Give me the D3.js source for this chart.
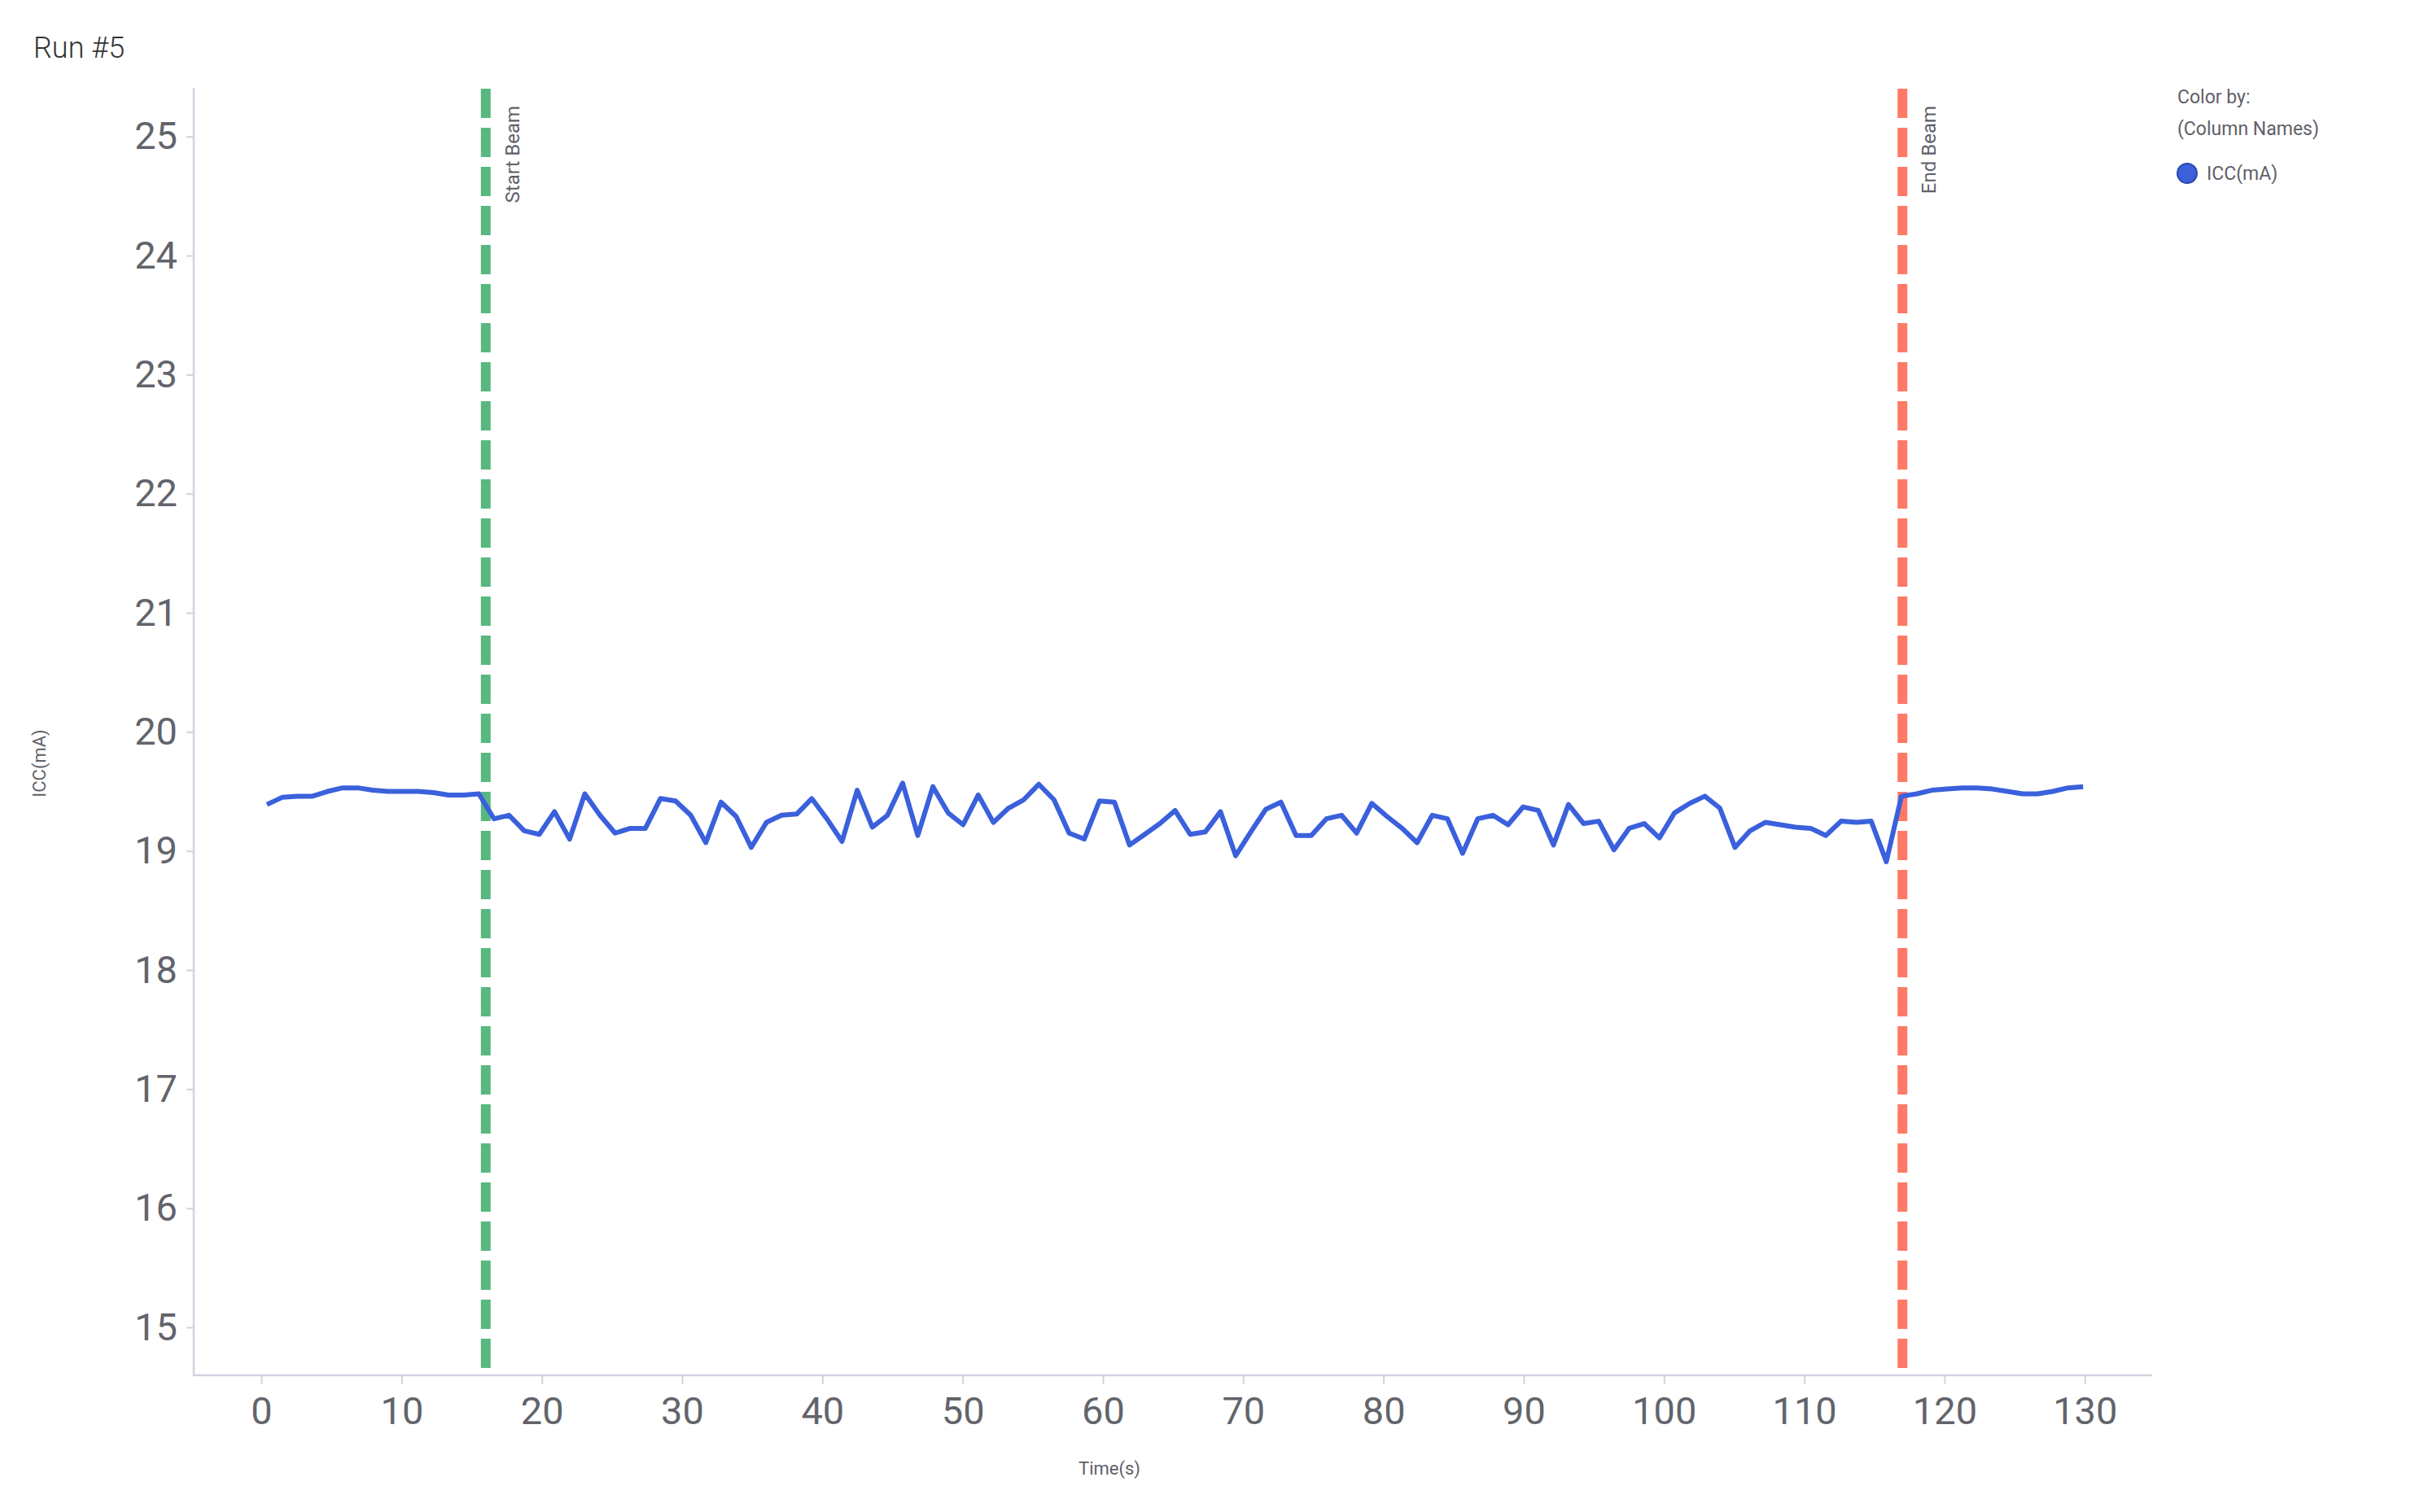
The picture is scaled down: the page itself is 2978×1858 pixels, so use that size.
<!DOCTYPE html>
<html>
<head>
<meta charset="utf-8">
<script src="https://cdn.jsdelivr.net/npm/d3@7"></script>
<style>
  html, body { margin: 0; padding: 0; background: #ffffff; }
  svg { display: block; font-family: Roboto, "Noto Sans", sans-serif; }
</style>
</head>
<body>
<svg id="chart" width="2978" height="1858"></svg>
<script>
// ---- data ----
const timeS = [0.4,1.48,2.56,3.64,4.72,5.8,6.87,7.95,9.03,10.11,11.19,12.27,13.35,14.43,15.51,16.59,17.66,18.74,19.82,20.9,21.98,23.06,24.14,25.22,26.3,27.38,28.45,29.53,30.61,31.69,32.77,33.85,34.93,36.01,37.09,38.17,39.24,40.32,41.4,42.48,43.56,44.64,45.72,46.8,47.88,48.96,50.03,51.11,52.19,53.27,54.35,55.43,56.51,57.59,58.67,59.75,60.82,61.9,62.98,64.06,65.14,66.22,67.3,68.38,69.46,70.54,71.61,72.69,73.77,74.85,75.93,77.01,78.09,79.17,80.25,81.33,82.4,83.48,84.56,85.64,86.72,87.8,88.88,89.96,91.04,92.12,93.19,94.27,95.35,96.43,97.51,98.59,99.67,100.75,101.83,102.91,103.98,105.06,106.14,107.22,108.3,109.38,110.46,111.54,112.62,113.7,114.77,115.85,116.93,118.01,119.09,120.17,121.25,122.33,123.41,124.49,125.56,126.64,127.72,128.8,129.88];
const iccMA = [19.39,19.45,19.46,19.46,19.50,19.53,19.53,19.51,19.50,19.50,19.50,19.49,19.47,19.47,19.48,19.27,19.30,19.17,19.14,19.33,19.10,19.48,19.30,19.15,19.19,19.19,19.44,19.42,19.30,19.07,19.41,19.29,19.03,19.24,19.30,19.31,19.44,19.27,19.08,19.51,19.20,19.30,19.57,19.13,19.54,19.32,19.22,19.47,19.24,19.36,19.43,19.56,19.43,19.15,19.10,19.42,19.41,19.05,19.14,19.23,19.34,19.14,19.16,19.33,18.96,19.16,19.35,19.41,19.13,19.13,19.27,19.30,19.15,19.40,19.29,19.19,19.07,19.30,19.27,18.98,19.27,19.30,19.22,19.37,19.34,19.05,19.39,19.23,19.25,19.01,19.19,19.23,19.11,19.32,19.40,19.46,19.36,19.03,19.17,19.24,19.22,19.20,19.19,19.13,19.25,19.24,19.25,18.91,19.46,19.48,19.51,19.52,19.53,19.53,19.52,19.50,19.48,19.48,19.50,19.53,19.54];
const xTicks = [0,10,20,30,40,50,60,70,80,90,100,110,120,130];
const yTicks = [15,16,17,18,19,20,21,22,23,24,25];
const markerNames = ["Start Beam", "End Beam"];
const markerTimes = [16, 117];
const markerColors = ["#58b880", "#fe7a66"];
const legendItems = ["ICC(mA)"];
const legendColors = ["#3a60dc"];

// ---- layout ----
const svg = d3.select("#chart");
const pLeft = 238, pRight = 2644, pTop = 108, pBottom = 1690;
const x = d3.scaleLinear().domain([-4.82, 134.8]).range([pLeft, pRight]);
const y = d3.scaleLinear().domain([14.597, 25.408]).range([pBottom, pTop]);
const axisColor = "#d0d4e0";
const tickTextColor = "#62646b";

// title
svg.append("text").attr("x", 41).attr("y", 71)
  .attr("font-size", 36).attr("font-weight", 300).attr("fill", "#333")
  .text("Run #5");

// y axis
const yAxis = svg.append("g").attr("transform", `translate(${pLeft},0)`)
  .call(d3.axisLeft(y).tickValues(yTicks).tickSize(9).tickPadding(11).tickFormat(d3.format("d")));
yAxis.select(".domain").remove();
yAxis.selectAll(".tick line").attr("stroke", axisColor).attr("stroke-width", 2);
yAxis.selectAll(".tick text").attr("font-size", 47).attr("fill", tickTextColor)
  .attr("font-family", "Roboto, sans-serif");
svg.append("line").attr("x1", pLeft).attr("x2", pLeft).attr("y1", pTop).attr("y2", pBottom + 1)
  .attr("stroke", axisColor).attr("stroke-width", 2.5);

// x axis
const xAxis = svg.append("g").attr("transform", `translate(0,${pBottom})`)
  .call(d3.axisBottom(x).tickValues(xTicks).tickSize(11).tickPadding(16).tickFormat(d3.format("d")));
xAxis.select(".domain").remove();
xAxis.selectAll(".tick line").attr("stroke", axisColor).attr("stroke-width", 2);
xAxis.selectAll(".tick text").attr("font-size", 47).attr("fill", tickTextColor)
  .attr("font-family", "Roboto, sans-serif");
svg.append("line").attr("x1", pLeft - 1).attr("x2", pRight).attr("y1", pBottom).attr("y2", pBottom)
  .attr("stroke", axisColor).attr("stroke-width", 2.5);

// axis titles
svg.append("text").attr("x", 1363).attr("y", 1812)
  .attr("text-anchor", "middle").attr("font-size", 22).attr("fill", "#5f6068")
  .text("Time(s)");
svg.append("text").attr("transform", `translate(56,${938}) rotate(-90)`)
  .attr("text-anchor", "middle").attr("font-size", 22).attr("fill", "#5f6068")
  .text("ICC(mA)");

// marker lines
markerTimes.forEach((t, i) => {
  svg.append("line")
    .attr("x1", x(t)).attr("x2", x(t)).attr("y1", pTop + 1).attr("y2", pBottom)
    .attr("stroke", markerColors[i]).attr("stroke-width", 12)
    .attr("stroke-dasharray", "36,12");
  svg.append("text")
    .attr("transform", `translate(${x(t) + 41},130) rotate(-90)`)
    .attr("text-anchor", "end").attr("font-size", 24).attr("fill", "#5f6068")
    .text(markerNames[i]);
});

// data line
const pts = timeS.map((t, i) => [t, iccMA[i]]);
svg.append("path").datum(pts)
  .attr("fill", "none").attr("stroke", legendColors[0]).attr("stroke-width", 6)
  .attr("stroke-linejoin", "round")
  .attr("d", d3.line().x(d => x(d[0])).y(d => y(d[1])));

// legend
const lg = svg.append("g");
lg.append("text").attr("x", 2675).attr("y", 127).attr("font-size", 23).attr("fill", "#5f6068").text("Color by:");
lg.append("text").attr("x", 2675).attr("y", 166).attr("font-size", 23).attr("fill", "#5f6068").text("(Column Names)");
legendItems.forEach((name, i) => {
  lg.append("circle").attr("cx", 2687).attr("cy", 213 + i * 36).attr("r", 12)
    .attr("fill", legendColors[i]).attr("stroke", "#2b48a8").attr("stroke-width", 2);
  lg.append("text").attr("x", 2711).attr("y", 221 + i * 36).attr("font-size", 23)
    .attr("fill", "#5f6068").text(name);
});
</script>
</body>
</html>
